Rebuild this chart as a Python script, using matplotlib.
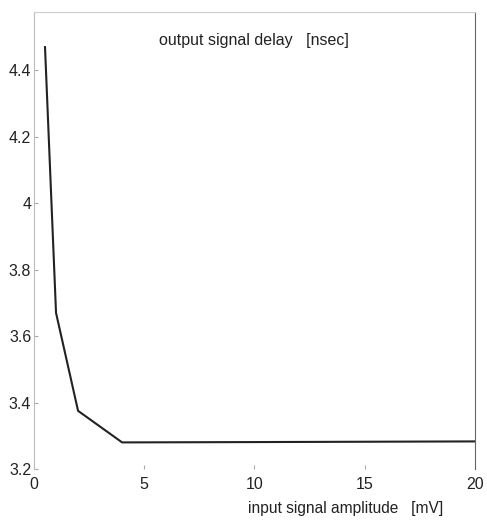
import matplotlib.pyplot as plt

# input amplitude [mV] vs output delay [nsec]
amplitude = [0.5, 1, 2, 4, 10, 20]
delay = [4.47, 3.67, 3.375, 3.28, 3.281, 3.283]

xticks = [0, 5, 10, 15, 20]
yticks = [3.2, 3.4, 3.6, 3.8, 4.0, 4.2, 4.4]
ytick_labels = ["3.2", "3.4", "3.6", "3.8", "4", "4.2", "4.4"]

plt.rcParams["font.family"] = ["Liberation Sans", "DejaVu Sans"]

fig = plt.figure(figsize=(4.87, 5.25), dpi=100)
ax = fig.add_axes([0.0698, 0.1067, 0.905, 0.870])

ax.plot(amplitude, delay, color="#222222", linewidth=1.5)

ax.set_xlim(0, 20)
ax.set_ylim(3.2, 4.575)
ax.set_xticks(xticks)
ax.set_yticks(yticks)
ax.set_yticklabels(ytick_labels)
ax.tick_params(direction="in", length=3, labelsize=11.5, colors="#aaaaaa",
               labelcolor="#222222")
ax.tick_params(axis="x", pad=6)
ax.tick_params(axis="y", pad=2)

# spines: faint left/top, darker right, no bottom
ax.spines["bottom"].set_visible(False)
ax.spines["left"].set_color("#bbbbbb")
ax.spines["top"].set_color("#cccccc")
ax.spines["right"].set_color("#666666")

ax.text(0.5, 0.939, "output signal delay   [nsec]", transform=ax.transAxes,
        ha="center", va="center", fontsize=11.5, color="#222222")
fig.text(0.910, 0.032, "input signal amplitude   [mV]", ha="right", va="center",
         fontsize=11.2, color="#222222")

fig.savefig("out.png", dpi=100)
